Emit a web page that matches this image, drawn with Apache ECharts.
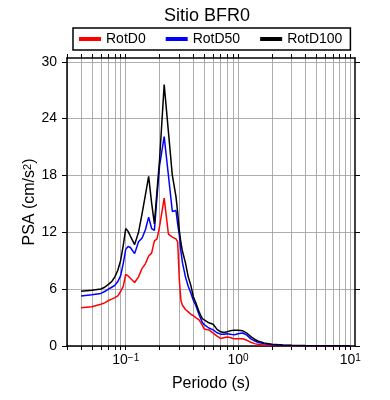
<!DOCTYPE html>
<html>
<head>
<meta charset="utf-8">
<script src="https://cdn.jsdelivr.net/npm/echarts@6/dist/echarts.min.js"></script>
<style>
  html, body { margin: 0; padding: 0; background: #fff; }
  #chart { width: 390px; height: 400px; }
</style>
</head>
<body>
<div id="chart"></div>
<script>
const periods = [0.04, 0.05, 0.06, 0.065, 0.07, 0.075, 0.08, 0.085, 0.09, 0.095,
  0.1, 0.105, 0.11, 0.12, 0.13, 0.14, 0.15, 0.16, 0.17, 0.18,
  0.19, 0.2, 0.22, 0.24, 0.26, 0.28, 0.29, 0.3, 0.31, 0.32,
  0.34, 0.36, 0.38, 0.4, 0.42, 0.45, 0.48, 0.5, 0.55, 0.6,
  0.65, 0.7, 0.75, 0.8, 0.85, 0.9, 0.95, 1.0, 1.1, 1.2,
  1.3, 1.4, 1.5, 1.7, 2.0, 2.5, 3.0, 4.0, 5.0, 7.0, 10.0]

const rotD0 = [4.05, 4.15, 4.4, 4.55, 4.8, 4.95, 5.1, 5.3, 5.75, 6.3,
  7.55, 7.4, 7.15, 6.7, 7.3, 8.2, 8.7, 9.5, 9.8, 11.1,
  11.3, 12.6, 15.6, 11.8, 11.5, 11.3, 11.0, 7.0, 4.8, 4.3,
  3.85, 3.6, 3.35, 3.2, 3.0, 2.75, 2.2, 1.8, 1.7, 1.35,
  1.05, 0.8, 0.88, 0.95, 0.9, 0.8, 0.77, 0.77, 0.77, 0.6,
  0.4, 0.25, 0.17, 0.1, 0.06, 0.04, 0.03, 0.02, 0.015, 0.01, 0.005]

const rotD50 = [5.28, 5.4, 5.55, 5.75, 6.0, 6.2, 6.4, 6.8, 7.4, 8.7,
  10.2, 10.5, 10.4, 9.75, 11.0, 11.4, 12.3, 13.6, 12.4, 12.2,
  15.8, 19.0, 22.1, 18.0, 14.2, 14.3, 12.9, 11.7, 10.0, 8.8,
  7.3, 6.3, 5.6, 4.8, 4.3, 3.3, 2.5, 2.25, 1.9, 1.7,
  1.4, 1.25, 1.25, 1.3, 1.25, 1.2, 1.22, 1.3, 1.37, 1.15,
  0.75, 0.55, 0.38, 0.25, 0.14, 0.08, 0.05, 0.03, 0.025, 0.015, 0.008]

const rotD100 = [5.77, 5.88, 6.02, 6.2, 6.5, 6.8, 7.3, 8.0, 9.0, 10.6,
  12.4, 12.1, 11.6, 10.7, 12.0, 14.0, 16.0, 17.9, 15.1, 12.9,
  16.4, 19.6, 27.6, 22.6, 18.0, 15.8, 14.1, 12.2, 10.9, 10.0,
  8.8, 7.3, 6.4, 5.2, 4.6, 3.6, 2.9, 2.75, 2.45, 2.3,
  1.75, 1.5, 1.42, 1.5, 1.6, 1.65, 1.65, 1.65, 1.6, 1.35,
  1.0, 0.72, 0.53, 0.33, 0.18, 0.1, 0.07, 0.04, 0.03, 0.02, 0.01]

const yTicks = [0, 6, 12, 18, 24, 30]
const xLabelTicks = [0.1, 1, 10]
const xGridTicks = [0.03, 0.04, 0.05, 0.06, 0.07, 0.08, 0.09,
  0.1, 0.2, 0.3, 0.4, 0.5, 0.6, 0.7, 0.8, 0.9,
  1, 2, 3, 4, 5, 6, 7, 8, 9, 10]

const font = 'Liberation Sans, Arial, sans-serif'
const chart = echarts.init(document.getElementById('chart'), null, { renderer: 'canvas' })

const pairs = vals => periods.map((p, i) => [p, vals[i]])

const supRich = {
  b: { fontSize: 14, fontFamily: font, color: '#000', verticalAlign: 'bottom', lineHeight: 14 },
  sup: { fontSize: 10, fontFamily: font, color: '#000', verticalAlign: 'top', lineHeight: 10, padding: [0, 0, 9, 0] }
}

const xBase = {
  type: 'log',
  logBase: 10,
  min: 0.03,
  max: 11,
  axisLine: { show: true, onZero: false, lineStyle: { color: '#000', width: 1.5 } },
  axisTick: { show: true, inside: false, length: 4, customValues: xGridTicks, lineStyle: { color: '#000', width: 1 } },
  minorTick: { show: false },
  minorSplitLine: { show: false }
}

const yBase = {
  type: 'value',
  min: 0,
  max: 30.4,
  axisLine: { show: true, onZero: false, lineStyle: { color: '#000', width: 1.5 } },
  axisTick: { show: true, inside: false, length: 5, customValues: yTicks, lineStyle: { color: '#000', width: 1 } }
}

const option = {
  animation: false,
  backgroundColor: '#fff',
  title: {
    text: 'Sitio BFR0',
    left: 202,
    top: 2,
    textAlign: 'center',
    textStyle: { fontFamily: font, fontSize: 18, fontWeight: 'normal', color: '#000' }
  },
  legend: {
    left: 73,
    top: 28,
    padding: [4, 8, 4, 6],
    itemGap: 20,
    itemWidth: 22,
    itemHeight: 4,
    icon: 'rect',
    borderColor: '#000',
    borderWidth: 1.5,
    textStyle: { fontFamily: font, fontSize: 14, color: '#000' },
    data: ['RotD0', 'RotD50', 'RotD100']
  },
  grid: { left: 67, right: 35, top: 58, bottom: 54, containLabel: false },
  xAxis: [
    Object.assign({}, xBase, {
      position: 'bottom',
      name: 'Periodo (s)',
      nameLocation: 'middle',
      nameGap: 30,
      nameMoveOverlap: false,
      nameTextStyle: { fontFamily: font, fontSize: 16, color: '#000' },
      axisLabel: {
        margin: 7,
        customValues: xLabelTicks,
        formatter: v => {
          const e = Math.round(Math.log10(v))
          return '{b|10}{sup|' + (e < 0 ? '\u2212' + (-e) : e) + '}'
        },
        rich: supRich
      },
      splitLine: { show: true, lineStyle: { color: '#999', width: 0.8 } }
    }),
    Object.assign({}, xBase, {
      position: 'top',
      axisLabel: { show: false },
      splitLine: { show: false }
    })
  ],
  yAxis: [
    Object.assign({}, yBase, {
      position: 'left',
      name: '{n|PSA (cm/s}{s|2}{n|)}',
      nameLocation: 'middle',
      nameGap: 29,
      nameMoveOverlap: false,
      nameTextStyle: {
        rich: {
          n: { fontFamily: font, fontSize: 16, color: '#000', verticalAlign: 'bottom', lineHeight: 16 },
          s: { fontFamily: font, fontSize: 11, color: '#000', verticalAlign: 'top', lineHeight: 11, padding: [0, 0, 9, 0] }
        }
      },
      axisLabel: { margin: 10, customValues: yTicks, fontFamily: font, fontSize: 14, color: '#000' },
      splitLine: { show: true, lineStyle: { color: '#999', width: 0.8 } }
    }),
    Object.assign({}, yBase, {
      position: 'right',
      axisLabel: { show: false },
      splitLine: { show: false }
    })
  ],
  series: [
    { name: 'RotD0', type: 'line', data: pairs(rotD0), showSymbol: false, color: '#ff0000', lineStyle: { width: 1.5 } },
    { name: 'RotD50', type: 'line', data: pairs(rotD50), showSymbol: false, color: '#0000ff', lineStyle: { width: 1.5 } },
    { name: 'RotD100', type: 'line', data: pairs(rotD100), showSymbol: false, color: '#000000', lineStyle: { width: 1.5 } }
  ]
}

chart.setOption(option)
</script>
</body>
</html>
